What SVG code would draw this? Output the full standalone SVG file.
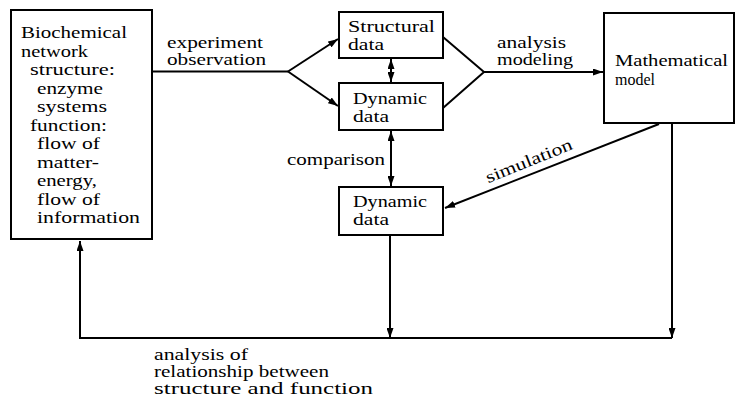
<svg xmlns="http://www.w3.org/2000/svg" width="736" height="401" viewBox="0 0 736 401">
<defs>
<marker id="ah" markerUnits="userSpaceOnUse" markerWidth="10" markerHeight="7" refX="10" refY="3.5" orient="auto-start-reverse">
<path d="M0,0 L10,3.5 L0,7 z" fill="#000"/>
</marker>
<style>
.box{fill:#fff;stroke:#000;stroke-width:2}
.ln{fill:none;stroke:#000;stroke-width:2}
text{font-family:"Liberation Serif","Times New Roman",serif;font-size:17px;fill:#000}
.lb{font-size:16px}
</style>
</defs>
<rect width="736" height="401" fill="#fff"/>
<g id="connectors">
<path class="ln" d="M152,71.5 H288"/>
<path class="ln" d="M288,71.5 L338,39" marker-end="url(#ah)"/>
<path class="ln" d="M288,71.5 L338,106" marker-end="url(#ah)"/>
<path class="ln" d="M443,37 L484,72 L443,108"/>
<path class="ln" d="M484,72 H603" marker-end="url(#ah)"/>
<path class="ln" d="M391,59 V82" marker-start="url(#ah)" marker-end="url(#ah)"/>
<path class="ln" d="M391,131 V186" marker-start="url(#ah)" marker-end="url(#ah)"/>
<path class="ln" d="M659,124 L445,208" marker-end="url(#ah)"/>
<path class="ln" d="M672,124 V338" marker-end="url(#ah)"/>
<path class="ln" d="M390,236 V338" marker-end="url(#ah)"/>
<path class="ln" d="M672,338 H80 V241" marker-end="url(#ah)"/>
</g>
<g id="biochemical">
<rect class="box" x="11" y="10" width="141" height="229"/>
<text x="21" y="38" textLength="106" lengthAdjust="spacingAndGlyphs">Biochemical</text>
<text x="21" y="56.5" textLength="67" lengthAdjust="spacingAndGlyphs">network</text>
<text x="30" y="75" textLength="85" lengthAdjust="spacingAndGlyphs">structure:</text>
<text x="37" y="93.5" textLength="66" lengthAdjust="spacingAndGlyphs">enzyme</text>
<text x="37" y="112" textLength="70" lengthAdjust="spacingAndGlyphs">systems</text>
<text x="30" y="130.5" textLength="77" lengthAdjust="spacingAndGlyphs">function:</text>
<text x="37" y="149" textLength="63" lengthAdjust="spacingAndGlyphs">flow of</text>
<text x="37" y="167.5" textLength="62" lengthAdjust="spacingAndGlyphs">matter-</text>
<text x="37" y="186" textLength="60" lengthAdjust="spacingAndGlyphs">energy,</text>
<text x="37" y="204.5" textLength="63" lengthAdjust="spacingAndGlyphs">flow of</text>
<text x="37" y="223" textLength="103" lengthAdjust="spacingAndGlyphs">information</text>
</g>
<g id="structural">
<rect class="box" x="339" y="12" width="104" height="46"/>
<text x="348" y="32" textLength="87" lengthAdjust="spacingAndGlyphs">Structural</text>
<text x="348" y="50" textLength="36" lengthAdjust="spacingAndGlyphs">data</text>
</g>
<g id="dynamic1">
<rect class="box" x="339" y="83" width="104" height="47"/>
<text x="353" y="104" textLength="74" lengthAdjust="spacingAndGlyphs">Dynamic</text>
<text x="353" y="122" textLength="36" lengthAdjust="spacingAndGlyphs">data</text>
</g>
<g id="dynamic2">
<rect class="box" x="339" y="187" width="104" height="48"/>
<text x="353" y="207" textLength="74" lengthAdjust="spacingAndGlyphs">Dynamic</text>
<text x="353" y="225" textLength="36" lengthAdjust="spacingAndGlyphs">data</text>
</g>
<g id="math">
<rect class="box" x="604" y="13" width="130" height="110"/>
<text x="615" y="66" textLength="113" lengthAdjust="spacingAndGlyphs">Mathematical</text>
<text x="615" y="85" textLength="40" lengthAdjust="spacingAndGlyphs">model</text>
</g>
<g id="labels">
<text class="lb" x="167" y="48" textLength="96" lengthAdjust="spacingAndGlyphs">experiment</text>
<text class="lb" x="167" y="65" textLength="99" lengthAdjust="spacingAndGlyphs">observation</text>
<text class="lb" x="497" y="48" textLength="69" lengthAdjust="spacingAndGlyphs">analysis</text>
<text class="lb" x="497" y="65" textLength="76" lengthAdjust="spacingAndGlyphs">modeling</text>
<text x="287" y="165" textLength="98" lengthAdjust="spacingAndGlyphs">comparison</text>
<text x="531" y="166" text-anchor="middle" transform="rotate(-22 531 166)" textLength="92" lengthAdjust="spacingAndGlyphs">simulation</text>
<text class="lb" x="154" y="360" textLength="94" lengthAdjust="spacingAndGlyphs">analysis of</text>
<text class="lb" x="154" y="377" textLength="175" lengthAdjust="spacingAndGlyphs">relationship between</text>
<text class="lb" x="154" y="394" textLength="219" lengthAdjust="spacingAndGlyphs">structure and function</text>
</g>
</svg>
